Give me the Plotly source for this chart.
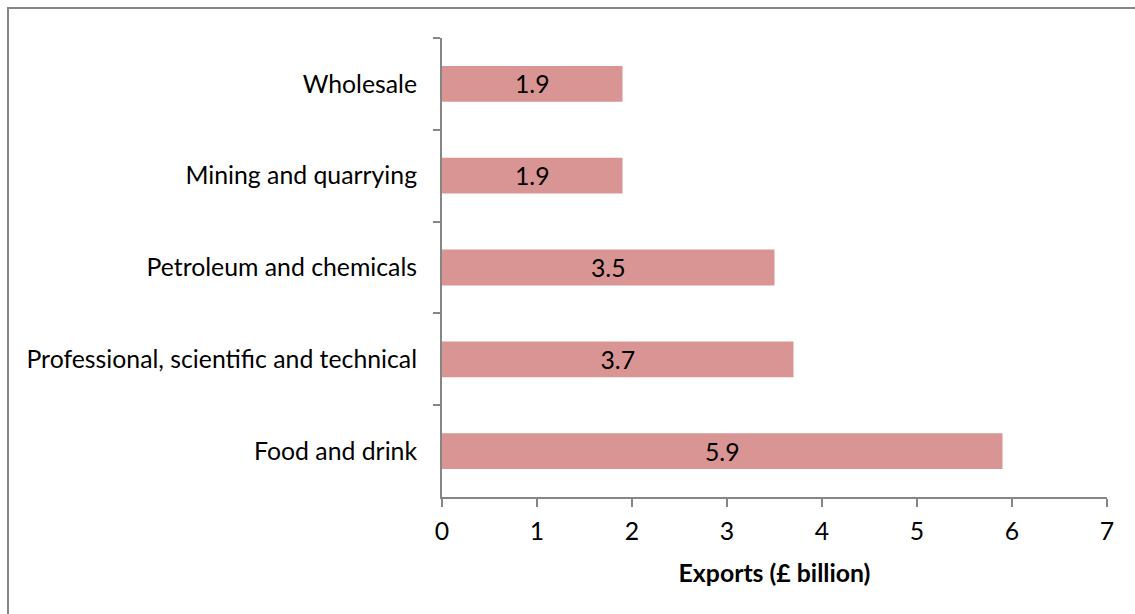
import plotly.graph_objects as go

# Export value by sector, top to bottom
sectors = [
    "Wholesale",
    "Mining and quarrying",
    "Petroleum and chemicals",
    "Professional, scientific and technical",
    "Food and drink",
]
exports = [1.9, 1.9, 3.5, 3.7, 5.9]
x_ticks = [0, 1, 2, 3, 4, 5, 6, 7]

FONT = "Lato"
SIZE = 24.8
AXIS_GREY = "#868686"

fig = go.Figure(
    go.Bar(
        x=exports,
        y=sectors,
        orientation="h",
        marker=dict(color="#D99594", line=dict(width=0)),
        text=[f"{v:.1f}" for v in exports],
        textposition="inside",
        insidetextanchor="middle",
        textfont=dict(family=FONT, size=SIZE, color="#000000"),
    )
)

fig.update_layout(
    width=1135,
    height=614,
    margin=dict(l=442, r=28, t=38, b=117),
    paper_bgcolor="white",
    plot_bgcolor="white",
    bargap=0.61,
    showlegend=False,
    font=dict(family=FONT, size=SIZE, color="#000000"),
    shapes=[
        dict(
            type="rect",
            xref="paper",
            yref="paper",
            x0=(8 - 442) / 665,
            x1=(1145 - 442) / 665,
            y0=(497 - 625) / 459,
            y1=(497 - 8) / 459,
            line=dict(color=AXIS_GREY, width=2),
            fillcolor="rgba(0,0,0,0)",
            layer="below",
        )
    ],
)

fig.update_xaxes(
    range=[0, 7],
    tickvals=x_ticks,
    ticks="outside",
    ticklen=8,
    tickcolor=AXIS_GREY,
    tickwidth=2,
    showline=True,
    linecolor=AXIS_GREY,
    linewidth=2,
    showgrid=False,
    zeroline=False,
    ticklabelstandoff=3,
    tickfont=dict(family=FONT, size=SIZE),
    title=dict(
        text="<b>Exports (£ billion)</b>",
        font=dict(family=FONT, size=SIZE),
        standoff=21,
    ),
)

fig.update_yaxes(
    autorange="reversed",
    ticks="outside",
    tickson="boundaries",
    ticklen=7,
    tickcolor=AXIS_GREY,
    tickwidth=2,
    showline=True,
    linecolor=AXIS_GREY,
    linewidth=2,
    showgrid=False,
    ticklabelstandoff=18,
    tickfont=dict(family=FONT, size=SIZE),
)

fig.write_html("out.html")
